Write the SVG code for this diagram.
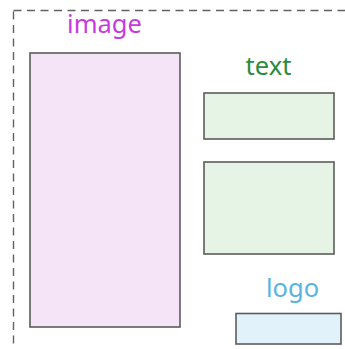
<svg xmlns="http://www.w3.org/2000/svg" width="345" height="349" viewBox="0 0 345 349">
  <style>
    .frame { fill: none; stroke: #626262; stroke-width: 1.4; stroke-dasharray: 8 5.5; }
    .box { stroke: #5c5c5c; stroke-width: 1.6; }
    .label { font-family: "Noto Sans", "Open Sans", sans-serif; font-size: 25.5px; text-anchor: middle; }
  </style>
  <rect width="345" height="349" fill="#ffffff"/>
  <!-- page frame, continuing past the right and bottom edges -->
  <rect class="frame" x="13.5" y="10.5" width="360" height="360"/>
  <g id="image">
    <rect class="box" x="30" y="53" width="150" height="274" fill="#f5e4f8"/>
    <text class="label" x="104.5" y="33" fill="#c83ae0">image</text>
  </g>
  <g id="text">
    <rect class="box" x="204" y="93" width="130" height="46" fill="#e6f4e6"/>
    <text class="label" x="268.5" y="75" fill="#2e8b3e">text</text>
  </g>
  <g id="text-body">
    <rect class="box" x="204" y="162" width="130" height="92" fill="#e6f4e6"/>
  </g>
  <g id="logo">
    <rect class="box" x="236" y="313.5" width="105" height="30.5" fill="#e1f2fa"/>
    <text class="label" x="292.5" y="297" fill="#5ab4e0">logo</text>
  </g>
  <g id="connectors"/>
</svg>
